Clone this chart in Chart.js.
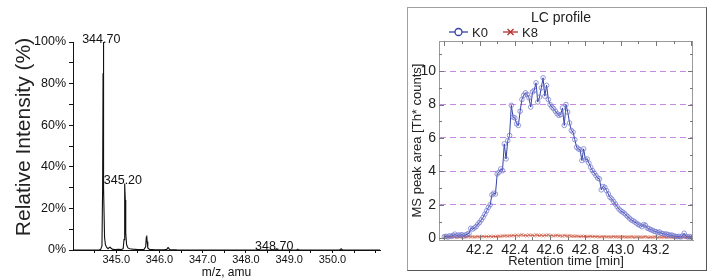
<!DOCTYPE html>
<html>
<head>
<meta charset="utf-8">
<script src="https://cdn.jsdelivr.net/npm/chart.js@4.4.0/dist/chart.umd.min.js"></script>
<style>
body { margin: 0; background: #fff; width: 717px; height: 280px; overflow: hidden; position: relative; }
#espectro { position: absolute; left: 0; top: 0; }
#caixaLC { position: absolute; left: 407px; top: 7px; width: 298px; height: 262px; border: 1px solid #a0a0a0; border-right-color: #555; border-bottom-color: #555; background: #fff; }
#perfilLC { position: absolute; left: 0; top: 0; }
</style>
</head>
<body>
<canvas id="espectro" width="400" height="280"></canvas>
<div id="caixaLC"><canvas id="perfilLC" width="298" height="262"></canvas></div>
<script>
// Espectro de massas (painel esquerdo)
const mzValores = [344.0, 344.60, 344.64, 344.67, 344.685, 344.695, 344.70, 344.705, 344.715, 344.73,
    344.75, 344.78, 344.81, 344.84, 344.86, 344.88, 344.92, 344.98, 345.05, 345.12,
    345.16, 345.18, 345.19, 345.20, 345.21, 345.22, 345.24, 345.27, 345.31, 345.38,
    345.50, 345.64, 345.68, 345.695, 345.705, 345.715, 345.73, 345.77, 345.90, 346.10,
    346.17, 346.19, 346.20, 346.21, 346.24, 346.40, 347.00, 347.80, 348.66, 348.69,
    348.70, 348.71, 348.74, 349.16, 349.19, 349.20, 349.21, 349.24, 350.16, 350.19,
    350.20, 350.21, 350.24, 351.1];
const intensidades = [0, 0, 0.3, 2, 30, 85, 100, 80, 30, 6,
    2.5, 1.2, 0.6, 1.2, 1.4, 0.8, 0.3, 0.2, 0.3, 0.2,
    0.6, 5, 22, 32, 24, 8, 2.5, 1, 0.6, 0.4,
    0.2, 0.2, 1.5, 6, 7, 4, 1, 0.3, 0.1, 0.1,
    0.3, 1, 1.2, 0.9, 0.2, 0.05, 0, 0, 0, 0.4,
    0.6, 0.4, 0, 0, 0.2, 0.3, 0.2, 0, 0, 0.4,
    0.6, 0.4, 0, 0];
const picosMz = [344.70, 345.20, 348.70];
const picosInt = [100, 32, 0.6];
const picosRotulos = ['344.70', '345.20', '348.70'];
const mzTicks = [344.5, 345.0, 345.5, 346.0, 346.5, 347.0, 347.5, 348.0, 348.5, 349.0, 349.5, 350.0, 350.5, 351.0];
const intTicks = [0, 10, 20, 30, 40, 50, 60, 70, 80, 90, 100];

// Perfil LC (painel direito)
const tempos = [42.00, 42.01, 42.02, 42.03, 42.04, 42.05, 42.06, 42.07, 42.08, 42.09,
    42.10, 42.11, 42.12, 42.13, 42.14, 42.15, 42.16, 42.17, 42.18, 42.19,
    42.20, 42.21, 42.22, 42.23, 42.24, 42.25, 42.26, 42.27, 42.28, 42.29,
    42.30, 42.31, 42.32, 42.33, 42.34, 42.35, 42.36, 42.37, 42.38, 42.39,
    42.40, 42.41, 42.42, 42.43, 42.44, 42.45, 42.46, 42.47, 42.48, 42.49,
    42.50, 42.51, 42.52, 42.53, 42.54, 42.55, 42.56, 42.57, 42.58, 42.59,
    42.60, 42.61, 42.62, 42.63, 42.64, 42.65, 42.66, 42.67, 42.68, 42.69,
    42.70, 42.71, 42.72, 42.73, 42.74, 42.75, 42.76, 42.77, 42.78, 42.79,
    42.80, 42.81, 42.82, 42.83, 42.84, 42.85, 42.86, 42.87, 42.88, 42.89,
    42.90, 42.91, 42.92, 42.93, 42.94, 42.95, 42.96, 42.97, 42.98, 42.99,
    43.00, 43.01, 43.02, 43.03, 43.04, 43.05, 43.06, 43.07, 43.08, 43.09,
    43.10, 43.11, 43.12, 43.13, 43.14, 43.15, 43.16, 43.17, 43.18, 43.19,
    43.20, 43.21, 43.22, 43.23, 43.24, 43.25, 43.26, 43.27, 43.28, 43.29,
    43.30, 43.31, 43.32, 43.33, 43.34, 43.35, 43.36, 43.37, 43.38, 43.39,
    43.40, 43.41];
const areaK0 = [0.10, 0.12, 0.08, 0.15, 0.12, 0.18, 0.25, 0.15, 0.20, 0.18,
    0.22, 0.15, 0.20, 0.25, 0.30, 0.60, 0.55, 0.62, 0.70, 0.85,
    0.95, 1.10, 1.25, 1.45, 1.65, 1.85, 2.00, 2.60, 2.70, 2.65,
    3.85, 3.95, 4.15, 4.05, 5.65, 4.75, 5.85, 6.15, 7.95, 7.25,
    7.20, 6.85, 6.75, 7.60, 8.30, 8.55, 8.70, 8.60, 8.40, 7.85,
    8.75, 8.85, 9.30, 8.15, 8.45, 9.00, 9.60, 8.50, 9.15, 8.30,
    8.00, 7.85, 7.75, 7.60, 7.45, 7.35, 7.40, 7.80, 6.75, 8.00,
    7.55, 6.90, 6.45, 6.35, 5.90, 5.45, 5.35, 5.30, 4.65, 5.35,
    4.70, 4.75, 4.50, 4.25, 4.05, 3.90, 3.75, 3.60, 3.55, 2.90,
    3.10, 3.05, 2.85, 2.65, 2.45, 2.35, 2.20, 2.05, 1.90, 1.75,
    1.65, 1.58, 1.50, 1.40, 1.30, 1.20, 1.10, 1.05, 0.98, 0.90,
    0.82, 0.78, 0.70, 0.82, 0.78, 0.62, 0.58, 0.52, 0.48, 0.42,
    0.40, 0.35, 0.38, 0.30, 0.28, 0.25, 0.26, 0.22, 0.18, 0.20,
    0.15, 0.12, 0.10, 0.12, 0.08, 0.15, 0.30, 0.12, 0.08, 0.10,
    0.08, 0.06];
const areaK8 = [0.08, 0.10, 0.06, 0.09, 0.07, 0.10, 0.08, 0.06, 0.09, 0.07,
    0.08, 0.10, 0.07, 0.09, 0.11, 0.08, 0.10, 0.07, 0.09, 0.11,
    0.08, 0.10, 0.12, 0.09, 0.11, 0.10, 0.13, 0.09, 0.12, 0.10,
    0.12, 0.14, 0.11, 0.15, 0.13, 0.17, 0.12, 0.16, 0.14, 0.18,
    0.15, 0.20, 0.13, 0.18, 0.22, 0.16, 0.19, 0.14, 0.21, 0.17,
    0.19, 0.15, 0.22, 0.18, 0.16, 0.20, 0.14, 0.19, 0.17, 0.21,
    0.15, 0.18, 0.13, 0.17, 0.19, 0.14, 0.16, 0.12, 0.18, 0.15,
    0.13, 0.16, 0.12, 0.15, 0.11, 0.14, 0.12, 0.10, 0.13, 0.11,
    0.12, 0.09, 0.11, 0.13, 0.10, 0.12, 0.09, 0.11, 0.08, 0.10,
    0.09, 0.11, 0.08, 0.10, 0.07, 0.09, 0.11, 0.08, 0.10, 0.07,
    0.09, 0.08, 0.10, 0.06, 0.09, 0.07, 0.10, 0.08, 0.06, 0.09,
    0.07, 0.09, 0.06, 0.08, 0.10, 0.07, 0.05, 0.08, 0.06, 0.09,
    0.07, 0.05, 0.08, 0.06, 0.09, 0.07, 0.05, 0.08, 0.06, 0.07,
    0.05, 0.08, 0.06, 0.07, 0.05, 0.08, 0.06, 0.05, 0.07, 0.06,
    0.05, 0.06];
const tempoTicks = [42.2, 42.4, 42.6, 42.8, 43.0, 43.2];
const areaTicks = [0, 2, 4, 6, 8, 10];

const fonte = '"Liberation Sans", Arial, sans-serif';
Chart.defaults.font.family = fonte;
Chart.defaults.color = '#111';

// rótulos dos picos e título do eixo y do espectro
const rotulosPicos = {
    id: 'rotulosPicos',
    afterDatasetsDraw(chart) {
        const { ctx, scales: { x, y } } = chart;
        ctx.save();
        ctx.fillStyle = '#111';
        ctx.font = '12.5px ' + fonte;
        ctx.textAlign = 'center';
        ctx.textBaseline = 'alphabetic';
        picosRotulos.forEach((txt, i) => {
            ctx.fillText(txt, x.getPixelForValue(picosMz[i]) - 2, y.getPixelForValue(picosInt[i]) + 1);
        });
        ctx.translate(24, 137);
        ctx.rotate(-Math.PI / 2);
        ctx.textBaseline = 'middle';
        ctx.font = '21px ' + fonte;
        ctx.fillStyle = '#222';
        ctx.fillText('Relative Intensity (%)', 0, 0);
        ctx.restore();
    }
};

new Chart(document.getElementById('espectro').getContext('2d'), {
    type: 'line',
    data: {
        datasets: [{
            data: mzValores.map((m, i) => ({ x: m, y: intensidades[i] })),
            borderColor: '#111',
            borderWidth: 1.1,
            pointRadius: 0,
            tension: 0
        }]
    },
    options: {
        responsive: false,
        animation: false,
        layout: { padding: { top: 42, right: 20, left: 0, bottom: 0 } },
        plugins: { legend: { display: false }, tooltip: { enabled: false } },
        scales: {
            x: {
                type: 'linear', min: 344.0, max: 351.1,
                afterBuildTicks: s => { s.ticks = mzTicks.map(v => ({ value: v })); },
                afterFit: s => { s.height = 30; },
                grid: { drawOnChartArea: false, drawTicks: true, tickLength: 3, color: '#111' },
                border: { display: true, color: '#111', width: 1 },
                ticks: {
                    font: { size: 11 }, padding: 0, maxRotation: 0, autoSkip: false,
                    callback: v => Number.isInteger(v) && v <= 350 ? v.toFixed(1) : ''
                },
                title: { display: true, text: 'm/z, amu', font: { size: 12 }, padding: { top: 0, bottom: 0 } }
            },
            y: {
                min: 0, max: 100,
                afterBuildTicks: s => { s.ticks = intTicks.map(v => ({ value: v })); },
                afterFit: s => { s.width = 73; },
                grid: { drawOnChartArea: false, drawTicks: true, tickLength: 4, color: '#111' },
                border: { display: true, color: '#111', width: 1 },
                ticks: { font: { size: 12.5 }, padding: 3, callback: v => v % 20 === 0 ? v + '%' : '' }
            }
        }
    },
    plugins: [rotulosPicos]
});

// moldura, marcas e legenda do perfil LC
const molduraLC = {
    id: 'molduraLC',
    afterDraw(chart) {
        const { ctx, chartArea: a, scales: { x, y } } = chart;
        ctx.save();
        ctx.strokeStyle = '#9a9a9a';
        ctx.lineWidth = 1;
        ctx.beginPath();
        ctx.moveTo(a.left, a.top + 0.5); ctx.lineTo(a.right, a.top + 0.5);
        ctx.moveTo(a.right - 0.5, a.top); ctx.lineTo(a.right - 0.5, a.bottom);
        ctx.stroke();

        ctx.strokeStyle = '#777';
        ctx.beginPath();
        for (let k = 420; k <= 434; k++) {
            const px = Math.round(x.getPixelForValue(k / 10)) + 0.5;
            const len = k % 2 === 0 ? 5 : 3;
            ctx.moveTo(px, a.bottom); ctx.lineTo(px, a.bottom - len);
            ctx.moveTo(px, a.top); ctx.lineTo(px, a.top + len);
        }
        for (let v = 0; v <= 11; v++) {
            const py = Math.round(y.getPixelForValue(v)) + 0.5;
            const len = v % 2 === 0 ? 5 : 3;
            ctx.moveTo(a.left, py); ctx.lineTo(a.left + len, py);
            ctx.moveTo(a.right, py); ctx.lineTo(a.right - len, py);
        }
        ctx.stroke();

        ctx.fillStyle = '#222';
        ctx.font = '14px ' + fonte;
        ctx.textAlign = 'center';
        ctx.textBaseline = 'middle';
        ctx.fillText('LC profile', (a.left + a.right) / 2 - 5, 10);

        const inicio = [a.left + 10, a.left + 64];
        const cores = ['#3442a6', '#b3302c'];
        ctx.font = '13px ' + fonte;
        ctx.textAlign = 'left';
        chart.data.datasets.forEach((ds, i) => {
            const x0 = inicio[i], yc = 24, larg = i === 0 ? 19 : 15;
            const xm = x0 + larg / 2;
            ctx.strokeStyle = cores[i];
            ctx.lineWidth = 1.3;
            ctx.beginPath();
            ctx.moveTo(x0, yc); ctx.lineTo(x0 + larg, yc);
            ctx.stroke();
            ctx.beginPath();
            if (ds.pointStyle === 'circle') {
                ctx.fillStyle = '#fff';
                ctx.arc(xm, yc, 3.5, 0, Math.PI * 2);
                ctx.fill();
            } else {
                ctx.moveTo(xm - 3, yc - 3); ctx.lineTo(xm + 3, yc + 3);
                ctx.moveTo(xm - 3, yc + 3); ctx.lineTo(xm + 3, yc - 3);
            }
            ctx.stroke();
            ctx.fillStyle = '#222';
            ctx.fillText(ds.label, x0 + larg + 4, yc + 1);
        });
        ctx.restore();
    }
};

new Chart(document.getElementById('perfilLC').getContext('2d'), {
    type: 'line',
    data: {
        datasets: [{
            label: 'K0',
            data: tempos.map((t, i) => ({ x: t, y: areaK0[i] })),
            borderColor: '#3442a6',
            borderWidth: 1,
            pointStyle: 'circle',
            pointRadius: 2.3,
            pointBorderWidth: 0.9,
            pointBorderColor: 'rgba(110,115,205,0.8)',
            pointBackgroundColor: 'rgba(255,255,255,0)',
            tension: 0
        }, {
            label: 'K8',
            data: tempos.map((t, i) => ({ x: t, y: areaK8[i] })),
            borderColor: '#a82a2a',
            borderWidth: 1,
            pointStyle: 'crossRot',
            pointRadius: 2.3,
            pointBorderWidth: 0.9,
            pointBorderColor: 'rgba(220,120,95,0.75)',
            tension: 0
        }]
    },
    options: {
        responsive: false,
        animation: false,
        layout: { padding: { top: 33, right: 13, left: 0, bottom: 0 } },
        plugins: { legend: { display: false }, tooltip: { enabled: false } },
        scales: {
            x: {
                type: 'linear', min: 41.97, max: 43.41,
                afterBuildTicks: s => { s.ticks = tempoTicks.map(v => ({ value: v })); },
                afterFit: s => { s.height = 30; },
                grid: { display: false, drawTicks: false },
                border: { display: true, color: '#9a9a9a', width: 1 },
                ticks: { font: { size: 14 }, color: '#222', padding: 2, maxRotation: 0, autoSkip: false, callback: v => v.toFixed(1) },
                title: { display: true, text: 'Retention time [min]', font: { size: 13 }, color: '#222', padding: { top: 0, bottom: 1 } }
            },
            y: {
                min: -0.1, max: 11.8,
                afterBuildTicks: s => { s.ticks = areaTicks.map(v => ({ value: v })); },
                afterFit: s => { s.width = 31; },
                grid: {
                    drawOnChartArea: true, drawTicks: false, lineWidth: 1,
                    color: c => c.tick && c.tick.value === 0 ? 'rgba(0,0,0,0)' : '#c48be0'
                },
                border: { display: true, color: '#9a9a9a', width: 1, dash: [6, 4] },
                ticks: { font: { size: 14 }, color: '#222', padding: 3 },
                title: { display: true, text: 'MS peak area [Th* counts]', font: { size: 13 }, color: '#222', padding: { top: 2, bottom: 0 } }
            }
        }
    },
    plugins: [molduraLC]
});
</script>
</body>
</html>
